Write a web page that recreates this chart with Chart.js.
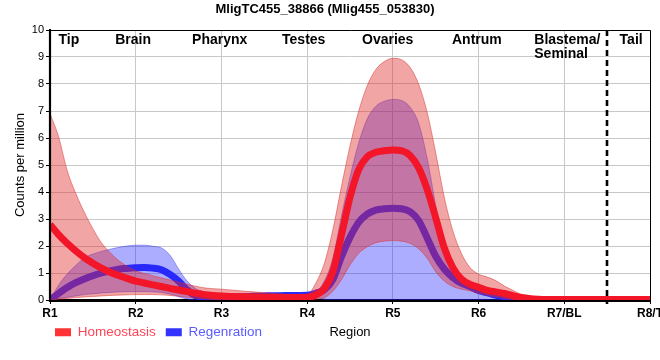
<!DOCTYPE html>
<html><head><meta charset="utf-8">
<script src="https://cdn.jsdelivr.net/npm/chart.js@4.4.1/dist/chart.umd.min.js"></script>
<style>html,body{margin:0;padding:0;background:#fff}#wrap{width:660px;height:360px}</style>
</head><body><div id="wrap"><canvas id="c" width="660" height="360"></canvas></div>
<script>
const FONT = "'Liberation Sans', Arial, sans-serif";

// ---- data ----
const xLabels = ['R1','R2','R3','R4','R5','R6','R7/BL','R8/T'];
const positions = [
  1.0,1.1,1.2,1.3,1.4,1.5,1.6,1.7,1.8,1.9,
  2.0,2.1,2.2,2.3,2.4,2.5,2.6,2.7,2.8,2.9,
  3.0,3.25,3.5,3.75,
  4.0,4.1,4.2,4.3,4.4,4.5,4.6,4.7,4.8,4.9,
  5.0,5.1,5.2,5.3,5.4,5.5,5.6,5.7,5.8,5.9,
  6.0,6.1,6.2,6.3,6.4,6.5,6.75,
  7.0,7.5,8.0
];
const homeoMean = [
  2.8,2.42,2.1,1.82,1.57,1.36,1.18,1.03,0.91,0.8,
  0.7,0.63,0.56,0.5,0.43,0.37,0.31,0.25,0.2,0.17,
  0.15,0.12,0.1,0.09,
  0.1,0.18,0.42,1.05,2.4,3.8,4.82,5.3,5.47,5.53,
  5.56,5.53,5.35,4.9,4.1,3.05,1.93,1.2,0.78,0.58,
  0.47,0.36,0.3,0.24,0.16,0.09,0.02,
  0.02,0.02,0.02
];
const homeoUpper = [
  6.9,6.05,4.8,3.95,3.25,2.64,2.12,1.76,1.46,1.25,
  1.08,0.98,0.9,0.82,0.74,0.66,0.58,0.51,0.45,0.42,
  0.4,0.33,0.27,0.21,
  0.2,0.62,1.35,2.6,4.2,5.7,6.98,7.93,8.53,8.83,
  8.95,8.9,8.62,8.0,6.95,5.45,3.8,2.56,1.72,1.2,
  0.96,0.85,0.72,0.52,0.36,0.2,0.05,
  0.04,0.04,0.04
];
const homeoLower = [
  0,0.03,0.06,0.09,0.11,0.13,0.15,0.17,0.18,0.19,
  0.2,0.2,0.2,0.19,0.17,0.14,0.1,0.06,0.04,0.02,
  0.02,0,0,0.01,
  0.03,0.04,0.08,0.33,0.75,1.3,1.72,1.97,2.12,2.18,
  2.2,2.18,2.1,1.9,1.55,1.05,0.7,0.5,0.4,0.34,
  0.25,0.18,0.12,0.06,0.02,0,0,
  0,0,0
];
const regenMean = [
  0,0.24,0.46,0.64,0.78,0.9,1.0,1.08,1.14,1.17,
  1.19,1.2,1.18,1.12,0.95,0.7,0.37,0.16,0.11,0.1,
  0.1,0.12,0.15,0.17,
  0.18,0.25,0.38,0.75,1.6,2.32,2.87,3.18,3.33,3.38,
  3.4,3.38,3.27,2.95,2.3,1.62,1.15,0.83,0.62,0.5,
  0.35,0.27,0.18,0.12,0.06,0.02,0,
  0,0,0
];
const regenUpper = [
  0,0.55,0.96,1.28,1.55,1.7,1.8,1.88,1.95,2.0,
  2.03,2.03,1.99,1.93,1.66,1.15,0.7,0.42,0.3,0.24,
  0.22,0.22,0.22,0.23,
  0.25,0.3,0.7,1.55,3.1,4.55,5.8,6.7,7.17,7.36,
  7.43,7.39,7.15,6.55,5.25,3.5,1.95,1.2,0.72,0.56,
  0.46,0.4,0.3,0.18,0.08,0.03,0,
  0,0,0
];
const regenLower = [
  0,0.05,0.1,0.15,0.2,0.23,0.26,0.28,0.3,0.31,
  0.31,0.31,0.3,0.28,0.22,0.12,0.04,0,0,0,
  0,0.02,0.06,0.1,
  0.12,0.08,0.03,0,0,0,0,0,0,0,
  0,0,0,0,0,0,0,0,0,0,
  0,0,0,0,0,0,0,
  0,0,0
];
const regionNames = [['Tip'],['Brain'],['Pharynx'],['Testes'],['Ovaries'],['Antrum'],['Blastema/','Seminal'],['Tail']];
const seriesNames = ['Homeostasis','Regenration'];
const titleText = 'MligTC455_38866 (Mlig455_053830)';

// ---- layout / style (not data) ----
const regionAt = [1.22, 1.97, 2.98, 3.96, 4.94, 5.98, 6.65, 7.78];
const regionAlign = ['center','center','center','center','center','center','left','center'];
const tailBoundary = 7.5;

function pts(arr){ return positions.map((x,i)=>({x:x, y:arr[i]})); }

const RED_LINE = 'rgb(242,22,40)';
const BLUE_LINE = 'rgb(40,40,250)';

const decor = {
  id: 'decor',
  afterLayout(chart){
    const lg = chart.legend;
    if (lg) {
      const dx = 45 - lg.left; lg.left += dx; lg.right += dx;
      const dy = 315.5 - lg.top; lg.top += dy; lg.bottom += dy;
    }
  },
  afterDatasetsDraw(chart){
    const {ctx, chartArea:a, scales:{x}} = chart;
    ctx.save();
    ctx.strokeStyle = '#000';
    ctx.lineWidth = 1;
    ctx.beginPath();
    ctx.moveTo(a.left, a.top + 0.5); ctx.lineTo(a.right + 0.5, a.top + 0.5); ctx.lineTo(a.right + 0.5, a.bottom);
    ctx.stroke();
    ctx.lineWidth = 2.2;
    ctx.beginPath();
    ctx.moveTo(a.left, a.top); ctx.lineTo(a.left, a.bottom + 1); ctx.lineTo(a.right + 1, a.bottom + 1);
    ctx.stroke();
    const bx = Math.round(x.getPixelForValue(tailBoundary));
    ctx.lineWidth = 2.6;
    ctx.setLineDash([6,4]);
    ctx.beginPath(); ctx.moveTo(bx, a.top); ctx.lineTo(bx, a.bottom + 4); ctx.stroke();
    ctx.setLineDash([]);
    ctx.fillStyle = '#000';
    ctx.font = 'bold 14px ' + FONT;
    ctx.textBaseline = 'middle';
    regionNames.forEach((lines, i) => {
      const px = x.getPixelForValue(regionAt[i]);
      ctx.textAlign = regionAlign[i];
      lines.forEach((t, j) => ctx.fillText(t, px, a.top + 10 + j * 14));
    });
    ctx.restore();
  }
};

new Chart(document.getElementById('c'), {
  type: 'line',
  data: {
    datasets: [
      { label: seriesNames[0], data: pts(homeoMean), borderColor: RED_LINE, borderWidth: 7, pointRadius: 0, fill: false, order: 0, cubicInterpolationMode: 'monotone' },
      { label: seriesNames[0] + ' upper', data: pts(homeoUpper), borderColor: 'rgba(215,50,50,0.5)', borderWidth: 1, pointRadius: 0, backgroundColor: 'rgba(225,40,40,0.42)', fill: {target: 2}, order: 1, cubicInterpolationMode: 'monotone' },
      { label: seriesNames[0] + ' lower', data: pts(homeoLower), borderColor: 'rgba(215,50,50,0.5)', borderWidth: 1, pointRadius: 0, fill: false, order: 1, cubicInterpolationMode: 'monotone' },
      { label: seriesNames[1], data: pts(regenMean), borderColor: BLUE_LINE, borderWidth: 7, pointRadius: 0, fill: false, order: 2, cubicInterpolationMode: 'monotone' },
      { label: seriesNames[1] + ' upper', data: pts(regenUpper), borderColor: 'rgba(60,60,235,0.45)', borderWidth: 1, pointRadius: 0, backgroundColor: 'rgba(20,20,255,0.35)', fill: {target: 5}, order: 3, cubicInterpolationMode: 'monotone' },
      { label: seriesNames[1] + ' lower', data: pts(regenLower), borderColor: 'rgba(60,60,235,0.45)', borderWidth: 1, pointRadius: 0, fill: false, order: 3, cubicInterpolationMode: 'monotone' }
    ]
  },
  options: {
    responsive: false,
    animation: false,
    devicePixelRatio: 1,
    layout: { padding: { left: 0, right: 10, top: 0, bottom: 0 } },
    plugins: {
      tooltip: { enabled: false },
      title: { display: true, text: titleText, color: '#000', font: { family: FONT, size: 13, weight: 'bold' }, padding: { top: 2, bottom: 12.4 } },
      legend: {
        position: 'bottom', align: 'start',
        labels: {
          boxWidth: 16, boxHeight: 8, padding: 10,
          font: { family: FONT, size: 13.5 },
          generateLabels: () => [
            { text: seriesNames[0], fillStyle: '#ff3333', strokeStyle: '#ff3333', lineWidth: 0, fontColor: '#ff4458', hidden: false, datasetIndex: 0 },
            { text: seriesNames[1], fillStyle: '#3333ff', strokeStyle: '#3333ff', lineWidth: 0, fontColor: '#5a5aff', hidden: false, datasetIndex: 3 }
          ]
        }
      }
    },
    scales: {
      x: {
        type: 'linear', min: 1, max: 8,
        afterFit: s => { s.height = 26.5; s.paddingLeft = 0; s.paddingRight = 0; },
        ticks: { stepSize: 1, autoSkip: false, maxRotation: 0, padding: 2, color: '#000', font: { family: FONT, size: 12, weight: 'bold' },
          callback: v => Number.isInteger(v) ? xLabels[v - 1] : '' },
        grid: { color: '#c8c8c8', lineWidth: 1, tickLength: 4, tickColor: '#000' },
        border: { display: true, color: '#000', width: 2 },
        title: { display: true, text: 'Region', color: '#000', font: { family: FONT, size: 13 }, padding: { top: 0, bottom: -13.3 } }
      },
      y: {
        min: 0, max: 10,
        afterFit: s => { s.width = 50; s.paddingTop = 0; s.paddingBottom = 0; },
        ticks: { stepSize: 1, padding: 2, color: '#000', font: { family: FONT, size: 11 } },
        grid: { color: '#c8c8c8', lineWidth: 1, tickLength: 4, tickColor: '#000' },
        border: { display: true, color: '#000', width: 2 },
        title: { display: true, text: 'Counts per million', color: '#000', font: { family: FONT, size: 13 }, padding: { top: 12.2, bottom: 0 } }
      }
    }
  },
  plugins: [decor]
});
</script>
</body></html>
